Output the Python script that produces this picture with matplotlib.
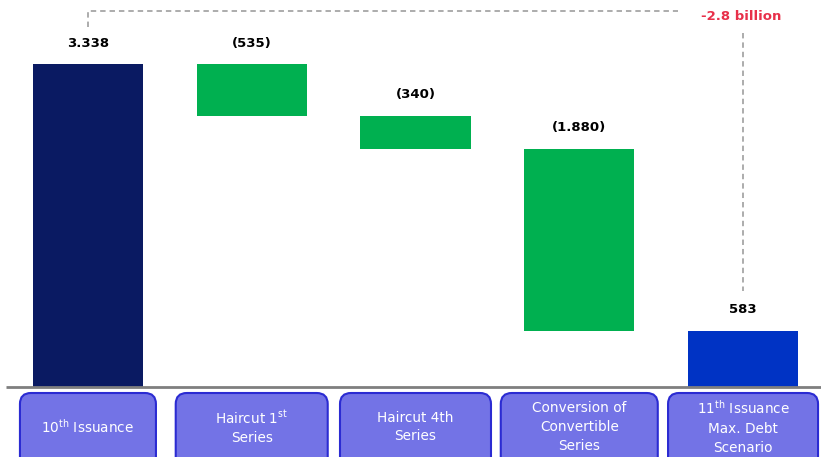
import matplotlib
matplotlib.use("Agg")
import matplotlib.pyplot as plt
from matplotlib.patches import FancyBboxPatch
from matplotlib.transforms import IdentityTransform

plt.rcParams['font.family'] = ['DejaVu Sans']
plt.rcParams['mathtext.default'] = 'regular'

# Werte aus dem Bild
categories = [r"10$^{th}$ Issuance",
              "Haircut 1$^{st}$\nSeries",
              "Haircut 4th\nSeries",
              "Conversion of\nConvertible\nSeries",
              "11$^{th}$ Issuance\nMax. Debt\nScenario"]
start_value = 3338
changes = [-535, -340, -1880]
end_value = 583
value_labels = ["3.338", "(535)", "(340)", "(1.880)", "583"]
total_label = "-2.8 billion"

navy = "#0A1A62"
green = "#00B050"
blue = "#0033C4"
box_fill = "#7373E6"
box_edge = "#2B2BD2"
gray_dash = "#A6A6A6"

fig = plt.figure(figsize=(8.21, 4.57), dpi=100)
ax = fig.add_axes([0, 0, 1, 1])
ax.set_xlim(-0.537, 4.476)
ax.set_ylim(-723, 3999)
ax.axis("off")

# Wasserfall aufbauen
bottoms = [0]
heights = [start_value]
level = start_value
for c in changes:
    level += c
    bottoms.append(level)
    heights.append(-c)
bottoms.append(0)
heights.append(end_value)
colors = [navy] + [green] * len(changes) + [blue]

x = list(range(len(categories)))
ax.bar(x, heights, bottom=bottoms, width=0.672, color=colors, zorder=2)

for i in x:
    top = bottoms[i] + heights[i]
    ax.annotate(value_labels[i], (i, top), xytext=(0, 15), textcoords="offset points",
                ha="center", va="center", fontsize=9.5, fontweight="bold", color="black")

# Grundlinie
ax.plot([-0.5, 4.476], [0, 0], color="#7F7F7F", lw=2, zorder=3, solid_capstyle="butt")

# gestrichelte Klammer
y_top = start_value + 547
ax.plot([0, 0, 3.6], [start_value + 382, y_top, y_top], color=gray_dash, lw=1.3,
        dashes=(3, 2.2))
ax.plot([4, 4], [start_value + 320, end_value + 410], color=gray_dash, lw=1.3,
        dashes=(3, 2.2))
ax.text(3.99, y_top - 52, total_label, ha="center", va="center", fontsize=9.5,
        fontweight="bold", color="#E8304A")

# Kategorie-Boxen unten
box_widths = [136, 152, 151, 157, 150]
fig.canvas.draw()
for i, lab in enumerate(categories):
    cx = ax.transData.transform((i, 0))[0]
    w = box_widths[i]
    p = FancyBboxPatch((cx - w / 2, -15), w, 79,
                       boxstyle="round,pad=0,rounding_size=11",
                       transform=IdentityTransform(), facecolor=box_fill,
                       edgecolor=box_edge, lw=1.5, zorder=4)
    ax.add_artist(p)
    ax.text(i, 30 / 457, lab, transform=ax.get_xaxis_transform(), ha="center",
            va="center", color="white", fontsize=9.8, linespacing=1.45, zorder=5)

fig.savefig("out.png", dpi=100)
